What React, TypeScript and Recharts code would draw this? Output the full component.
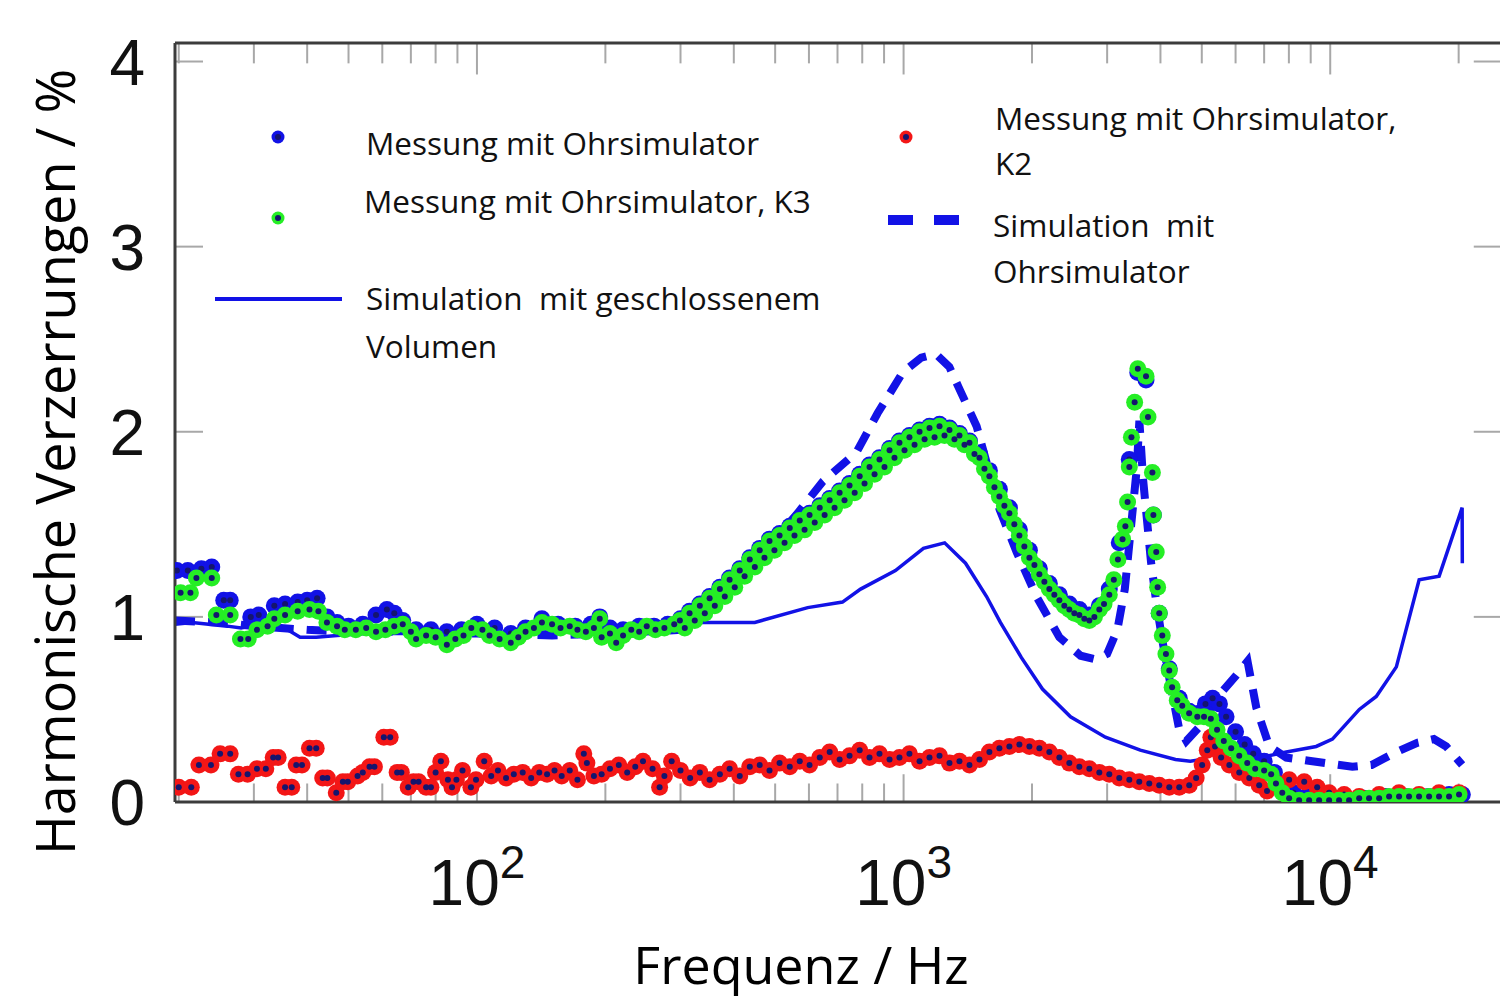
import React from "react";
import { ComposedChart, Line, Scatter, XAxis, YAxis, ReferenceLine } from "recharts";

// frequency (Hz) / distortion (%) pairs
const totalPoints: [number, number][] = [
	[19.8, 1.25], [21.0, 1.25], [22.6, 1.26], [23.9, 1.27], [25.5, 1.09], [26.4, 1.09], [29.5, 1.0], [30.8, 1.01],
	[33.5, 1.06], [35.5, 1.07], [38.0, 1.08], [40.0, 1.09], [42.2, 1.1], [44.5, 1.0], [47.0, 0.97], [50.0, 0.95],
	[54.0, 0.96], [58.0, 1.01], [61.5, 1.04], [64.0, 1.02], [67.0, 0.98], [72.0, 0.93], [78.0, 0.93], [85.0, 0.92],
	[92.0, 0.93], [100, 0.96], [110, 0.94], [120, 0.91], [130, 0.94], [142, 0.99], [155, 0.96], [170, 0.95],
	[185, 0.96], [194, 1.0], [205, 0.94], [220, 0.93], [240, 0.95], [260, 0.95], [280, 0.96], [300, 0.99],
	[315, 1.03], [333, 1.07], [351, 1.11], [371, 1.16], [391, 1.21], [413, 1.26], [436, 1.32], [460, 1.37],
	[485, 1.42], [512, 1.45], [541, 1.49], [571, 1.53], [602, 1.56], [636, 1.6], [671, 1.64], [708, 1.68],
	[747, 1.72], [789, 1.77], [832, 1.82], [878, 1.86], [927, 1.91], [978, 1.95], [1032, 1.98], [1090, 2.01],
	[1150, 2.03], [1214, 2.04], [1281, 2.02], [1352, 1.99], [1427, 1.95], [1506, 1.88], [1589, 1.79], [1677, 1.69],
	[1770, 1.59], [1868, 1.47], [1972, 1.36], [2081, 1.26], [2196, 1.18], [2318, 1.12], [2446, 1.07], [2582, 1.04],
	[2725, 1.01], [2876, 1.06], [3035, 1.15], [3203, 1.4], [3381, 1.85], [3540, 2.32], [3700, 2.28], [3850, 1.55],
	[3974, 1.02], [4195, 0.72], [4427, 0.56], [4672, 0.49], [4931, 0.48], [5100, 0.53], [5300, 0.56], [5500, 0.53],
	[5700, 0.46], [6000, 0.38], [6300, 0.31], [6600, 0.26], [7000, 0.22], [7400, 0.16], [7800, 0.09], [8200, 0.05],
	[8800, 0.03], [9500, 0.02], [10500, 0.02], [12000, 0.02], [13500, 0.03], [15000, 0.03], [17000, 0.03],
	[19000, 0.04], [20400, 0.04],
];

const k2Points: [number, number][] = [
	[20.0, 0.08], [21.4, 0.08], [22.3, 0.2], [23.8, 0.2], [25.0, 0.26], [26.4, 0.26], [27.6, 0.15], [29.0, 0.15],
	[30.5, 0.18], [32.0, 0.18], [33.3, 0.24], [34.2, 0.24], [35.5, 0.08], [36.8, 0.08], [37.7, 0.2], [38.9, 0.2],
	[40.5, 0.29], [42.0, 0.29], [43.5, 0.13], [44.6, 0.13], [46.8, 0.05], [48.5, 0.11], [49.8, 0.11], [52.5, 0.14],
	[54.0, 0.16], [56.0, 0.19], [57.5, 0.19], [60.5, 0.35], [62.6, 0.35], [65.0, 0.16], [66.5, 0.16], [69.0, 0.08],
	[71.0, 0.11], [73.0, 0.11], [76.0, 0.08], [78.0, 0.08], [80.0, 0.16], [82.3, 0.22], [85.5, 0.12], [87.4, 0.08],
	[89.5, 0.12], [92.5, 0.17], [96.8, 0.08], [99.5, 0.12], [104, 0.22], [108, 0.14], [112, 0.17], [117, 0.13],
	[122, 0.15], [128, 0.16], [134, 0.13], [140, 0.16], [146, 0.15], [152, 0.17], [158, 0.14], [165, 0.17],
	[172, 0.12], [178, 0.26], [181, 0.21], [188, 0.14], [196, 0.15], [205, 0.18], [215, 0.2], [225, 0.16],
	[235, 0.19], [245, 0.22], [258, 0.18], [268, 0.08], [275, 0.14], [286, 0.22], [300, 0.17], [316, 0.13],
	[333, 0.16], [351, 0.12], [371, 0.15], [391, 0.18], [413, 0.14], [436, 0.19], [460, 0.2], [485, 0.17],
	[512, 0.21], [541, 0.19], [571, 0.22], [602, 0.2], [636, 0.24], [671, 0.27], [708, 0.23], [747, 0.25],
	[789, 0.28], [832, 0.24], [878, 0.26], [927, 0.23], [978, 0.24], [1032, 0.26], [1090, 0.22], [1150, 0.24],
	[1214, 0.25], [1281, 0.21], [1352, 0.22], [1427, 0.2], [1506, 0.23], [1589, 0.27], [1677, 0.29], [1770, 0.3],
	[1868, 0.31], [1972, 0.3], [2081, 0.29], [2196, 0.27], [2318, 0.24], [2446, 0.21], [2582, 0.19], [2725, 0.18],
	[2876, 0.16], [3035, 0.15], [3203, 0.13], [3381, 0.12], [3568, 0.11], [3766, 0.1], [3974, 0.09], [4195, 0.08],
	[4427, 0.08], [4672, 0.09], [4850, 0.13], [5010, 0.2], [5150, 0.28], [5250, 0.35], [5370, 0.3], [5550, 0.24],
	[5800, 0.2], [6120, 0.16], [6460, 0.13], [6815, 0.09], [7110, 0.06], [7520, 0.1], [8010, 0.12], [8690, 0.11],
	[9320, 0.08], [9940, 0.05], [10780, 0.04], [11690, 0.03], [13020, 0.04], [14500, 0.05], [16150, 0.04],
	[17990, 0.05], [20040, 0.05],
];

const k3Points: [number, number][] = [
	[20.2, 1.13], [21.3, 1.13], [22.0, 1.21], [23.9, 1.21], [24.5, 1.01], [26.4, 1.01], [27.9, 0.88], [29.1, 0.88],
	[30.5, 0.93], [32.3, 0.95], [33.5, 0.99], [35.5, 1.01], [38.0, 1.03], [40.5, 1.04], [42.5, 1.03], [44.5, 0.97],
	[47.0, 0.95], [49.0, 0.93], [52.0, 0.93], [55.0, 0.94], [58.0, 0.92], [61.0, 0.93], [64.0, 0.95], [67.0, 0.96],
	[70.0, 0.92], [72.0, 0.88], [76.0, 0.9], [80.0, 0.89], [85.0, 0.85], [89.0, 0.88], [93.0, 0.9], [97.0, 0.94],
	[103, 0.93], [107, 0.9], [113, 0.88], [120, 0.86], [125, 0.89], [130, 0.92], [136, 0.94], [142, 0.97],
	[150, 0.96], [157, 0.94], [165, 0.95], [172, 0.93], [180, 0.92], [188, 0.94], [194, 0.99], [196, 0.89],
	[205, 0.91], [212, 0.86], [220, 0.9], [230, 0.93], [240, 0.92], [250, 0.95], [262, 0.93], [275, 0.94],
	[290, 0.96], [299, 0.98], [307, 0.94], [315, 1.02], [324, 0.98], [333, 1.06], [342, 1.02], [351, 1.1],
	[361, 1.06], [371, 1.15], [381, 1.11], [391, 1.2], [402, 1.16], [413, 1.25], [424, 1.22], [436, 1.31],
	[448, 1.27], [460, 1.36], [472, 1.32], [485, 1.41], [498, 1.36], [512, 1.44], [526, 1.4], [541, 1.48],
	[555, 1.44], [571, 1.52], [586, 1.47], [602, 1.55], [619, 1.51], [636, 1.59], [653, 1.55], [671, 1.63],
	[689, 1.59], [708, 1.67], [727, 1.63], [747, 1.71], [768, 1.67], [789, 1.76], [810, 1.72], [832, 1.81],
	[855, 1.77], [878, 1.85], [902, 1.81], [927, 1.9], [952, 1.86], [978, 1.94], [1005, 1.9], [1032, 1.97],
	[1061, 1.93], [1090, 2.0], [1120, 1.96], [1150, 2.02], [1182, 1.97], [1214, 2.03], [1247, 1.98], [1281, 2.01],
	[1316, 1.96], [1352, 1.98], [1389, 1.93], [1427, 1.94], [1466, 1.88], [1506, 1.86], [1547, 1.8], [1589, 1.76],
	[1633, 1.7], [1677, 1.65], [1723, 1.6], [1770, 1.56], [1818, 1.5], [1868, 1.44], [1919, 1.38], [1972, 1.32],
	[2026, 1.28], [2081, 1.23], [2138, 1.19], [2196, 1.15], [2256, 1.12], [2318, 1.09], [2381, 1.06], [2446, 1.04],
	[2513, 1.02], [2582, 1.01], [2652, 0.99], [2725, 0.98], [2800, 1.0], [2876, 1.04], [2950, 1.07], [3035, 1.12],
	[3110, 1.2], [3180, 1.31], [3260, 1.42], [3310, 1.49], [3350, 1.62], [3381, 1.81], [3420, 1.97], [3480, 2.16],
	[3540, 2.34], [3700, 2.3], [3740, 2.08], [3830, 1.78], [3850, 1.55], [3910, 1.35], [3940, 1.16], [3974, 1.02],
	[4040, 0.9], [4120, 0.8], [4195, 0.71], [4260, 0.62], [4380, 0.55], [4500, 0.52], [4670, 0.48], [4880, 0.46],
	[5060, 0.46], [5250, 0.45], [5430, 0.39], [5630, 0.33], [5860, 0.29], [6120, 0.25], [6390, 0.21], [6670, 0.18],
	[7000, 0.17], [7270, 0.15], [7460, 0.1], [7720, 0.05], [8010, 0.02], [8455, 0.01], [8924, 0.01], [9418, 0.01],
	[9940, 0.01], [10490, 0.01], [11070, 0.01], [11690, 0.02], [12330, 0.02], [13020, 0.02], [13740, 0.03],
	[14500, 0.03], [15300, 0.03], [16150, 0.03], [17050, 0.03], [17990, 0.03], [18990, 0.03], [20040, 0.04],
];

const closedSimPoints: [number, number][] = [
	[19.6, 0.96], [21.5, 0.97], [23.5, 0.96], [26, 0.95], [28, 0.94], [31, 0.96], [33.5, 0.97], [36, 0.93],
	[38.5, 0.89], [42, 0.89], [47, 0.9], [55, 0.91], [70, 0.91], [100, 0.91], [150, 0.92], [200, 0.92],
	[260, 0.93], [326, 0.97], [448, 0.97], [596, 1.05], [719, 1.08], [793, 1.15], [957, 1.25], [1113, 1.37],
	[1248, 1.4], [1397, 1.29], [1565, 1.11], [1686, 0.97], [1889, 0.78], [2116, 0.61], [2462, 0.46], [2972, 0.35],
	[3588, 0.28], [4338, 0.23], [4700, 0.22], [5000, 0.23], [5300, 0.26], [5800, 0.27], [6500, 0.26], [7200, 0.25],
	[7890, 0.27], [9270, 0.3], [10120, 0.34], [11700, 0.5], [12820, 0.57], [14290, 0.73], [16160, 1.2],
	[18000, 1.22], [20380, 1.59], [20400, 1.29],
];

const earSimPoints: [number, number][] = [
	[19.6, 0.98], [25, 0.97], [30, 0.95], [40, 0.93], [50, 0.92], [70, 0.92], [100, 0.91], [150, 0.9],
	[200, 0.91], [300, 0.93], [346, 1.04], [406, 1.19], [480, 1.38], [560, 1.55], [646, 1.73], [776, 1.89],
	[869, 2.1], [995, 2.32], [1100, 2.4], [1190, 2.42], [1280, 2.35], [1352, 2.23], [1483, 2.03], [1679, 1.58],
	[1841, 1.35], [2049, 1.11], [2318, 0.89], [2600, 0.79], [2830, 0.77], [3000, 0.8], [3170, 0.93], [3300, 1.15],
	[3400, 1.45], [3520, 1.8], [3570, 2.06], [3640, 1.75], [3710, 1.55], [3800, 1.3], [3910, 1.08], [4050, 0.86],
	[4250, 0.6], [4420, 0.4], [4600, 0.33], [5000, 0.42], [5500, 0.58], [6000, 0.68], [6400, 0.76], [6710, 0.51],
	[7200, 0.3], [7890, 0.24], [9080, 0.22], [11270, 0.19], [12500, 0.2], [14290, 0.27], [16000, 0.32],
	[17500, 0.34], [18700, 0.3], [20380, 0.2],
];

const xDomain = [19.6, 25000];
const yDomain = [0, 4.1];
const decadeTicks = [100, 1000, 10000];
const minorTicks = [20, 30, 40, 50, 60, 70, 80, 90, 200, 300, 400, 500, 600, 700, 800, 900, 2000, 3000, 4000, 5000, 6000, 7000, 8000, 9000, 20000];
const yTicks = [0, 1, 2, 3, 4];

const toRows = (pts: [number, number][]) => pts.map(([f, v]) => ({ f, v }));
const total = toRows(totalPoints);
const k2 = toRows(k2Points);
const k3 = toRows(k3Points);
const closedSim = toRows(closedSimPoints);
const earSim = toRows(earSimPoints);

const BLUE = "#1212e6";
const RED = "#f31616";
const GREEN = "#25ee25";
const CORE = "#15156e";
const TICK = "#a8a8a8";
const FRAME = "#3c3c3c";

const halo = (color: string) => (p: any) => <circle cx={p.cx} cy={p.cy} r={8.5} fill={color} />;
const core = (p: any) => <circle cx={p.cx} cy={p.cy} r={3} fill={CORE} />;

const XTick = ({ x, y, payload }: any) => (
	<text x={x} y={y + 103} textAnchor="middle" fontFamily="'Liberation Sans', Arial, sans-serif" fontSize={64} fill="#111">
		10
		<tspan dy={-27} fontSize={46}>
			{Math.round(Math.log10(payload.value))}
		</tspan>
	</text>
);

const YTick = ({ x, y, payload }: any) => (
	<text x={x - 30} y={y + 23} textAnchor="end" fontFamily="'Liberation Sans', Arial, sans-serif" fontSize={64} fill="#111">
		{payload.value}
	</text>
);

const legendFont = { fontFamily: "'Open Sans', sans-serif", fontSize: 31.5, fill: "#111", whiteSpace: "pre" } as any;

const Overlay = () => (
	<svg width={1500} height={1003} style={{ position: "absolute", left: 0, top: 0, pointerEvents: "none" }}>
		<circle cx={278} cy={137} r={6.5} fill={BLUE} />
		<circle cx={278} cy={137} r={3} fill={CORE} />
		<text x={366} y={155} style={legendFont}>Messung mit Ohrsimulator</text>
		<circle cx={278} cy={218} r={6.5} fill={GREEN} />
		<circle cx={278} cy={218} r={3} fill={CORE} />
		<text x={364} y={213} style={legendFont}>Messung mit Ohrsimulator, K3</text>
		<line x1={215} y1={299} x2={342} y2={299} stroke={BLUE} strokeWidth={4} />
		<text x={366} y={310} style={legendFont}>Simulation  mit geschlossenem</text>
		<text x={366} y={358} style={legendFont}>Volumen</text>
		<circle cx={906} cy={137} r={6.5} fill={RED} />
		<circle cx={906} cy={137} r={3} fill={CORE} />
		<text x={995} y={130} style={legendFont}>Messung mit Ohrsimulator,</text>
		<text x={995} y={175} style={legendFont}>K2</text>
		<line x1={888} y1={220} x2={959} y2={220} stroke={BLUE} strokeWidth={10} strokeDasharray="25 21" />
		<text x={993} y={237} style={legendFont}>Simulation  mit</text>
		<text x={993} y={283} style={legendFont}>Ohrsimulator</text>
		<text x={801} y={984} textAnchor="middle" style={{ ...legendFont, fontSize: 52, fill: "#000" }}>
			Frequenz / Hz
		</text>
		<text transform="translate(75,462) rotate(-90)" textAnchor="middle" style={{ ...legendFont, fontSize: 54, fill: "#000" }}>
			Harmonische Verzerrungen / %
		</text>
	</svg>
);

export default function App() {
	return (
		<div style={{ position: "absolute", left: 0, top: 0, width: 1500, height: 1003, background: "#fff", overflow: "hidden" }}>
			<ComposedChart width={1500} height={1003} margin={{ top: 42, right: 0, bottom: 101, left: 75 }}>
				<XAxis
					dataKey="f"
					type="number"
					scale="log"
					domain={xDomain}
					allowDataOverflow
					ticks={decadeTicks}
					interval={0}
					height={100}
					tickSize={0}
					tickMargin={0}
					tickLine={false}
					tick={<XTick />}
					axisLine={{ stroke: FRAME, strokeWidth: 3 }}
				/>
				<XAxis
					xAxisId="top"
					orientation="top"
					dataKey="f"
					type="number"
					scale="log"
					domain={xDomain}
					allowDataOverflow
					height={1}
					tick={false}
					tickLine={false}
					axisLine={{ stroke: FRAME, strokeWidth: 3 }}
				/>
				<YAxis
					type="number"
					domain={yDomain}
					allowDataOverflow
					ticks={yTicks}
					interval={0}
					width={100}
					tickSize={0}
					tickMargin={0}
					tickLine={false}
					tick={<YTick />}
					axisLine={{ stroke: FRAME, strokeWidth: 3 }}
				/>

				{minorTicks.map((f) => (
					<ReferenceLine key={"b" + f} segment={[{ x: f, y: 0 }, { x: f, y: 0.1 }]} stroke={TICK} strokeWidth={2} />
				))}
				{decadeTicks.map((f) => (
					<ReferenceLine key={"B" + f} segment={[{ x: f, y: 0 }, { x: f, y: 0.15 }]} stroke={TICK} strokeWidth={2} />
				))}
				{minorTicks.map((f) => (
					<ReferenceLine key={"t" + f} segment={[{ x: f, y: 4.1 }, { x: f, y: 3.99 }]} stroke={TICK} strokeWidth={2} />
				))}
				{decadeTicks.map((f) => (
					<ReferenceLine key={"T" + f} segment={[{ x: f, y: 4.1 }, { x: f, y: 3.93 }]} stroke={TICK} strokeWidth={2} />
				))}
				{yTicks.slice(1).map((v) => (
					<ReferenceLine key={"l" + v} segment={[{ x: 19.6, y: v }, { x: 22.8, y: v }]} stroke={TICK} strokeWidth={2} />
				))}
				{yTicks.slice(1).map((v) => (
					<ReferenceLine key={"r" + v} segment={[{ x: 21700, y: v }, { x: 25000, y: v }]} stroke={TICK} strokeWidth={2} />
				))}

				<Line data={closedSim} dataKey="v" type="linear" stroke={BLUE} strokeWidth={3.5} dot={false} isAnimationActive={false} />
				<Line
					data={earSim}
					dataKey="v"
					type="linear"
					stroke={BLUE}
					strokeWidth={8}
					strokeDasharray="20 13"
					dot={false}
					isAnimationActive={false}
				/>

				<Scatter data={total} dataKey="v" shape={halo(BLUE)} isAnimationActive={false} />
				<Scatter data={total} dataKey="v" shape={core} isAnimationActive={false} />
				<Scatter data={k2} dataKey="v" shape={halo(RED)} isAnimationActive={false} />
				<Scatter data={k2} dataKey="v" shape={core} isAnimationActive={false} />
				<Scatter data={k3} dataKey="v" shape={halo(GREEN)} isAnimationActive={false} />
				<Scatter data={k3} dataKey="v" shape={core} isAnimationActive={false} />
			</ComposedChart>
			<Overlay />
		</div>
	);
}
